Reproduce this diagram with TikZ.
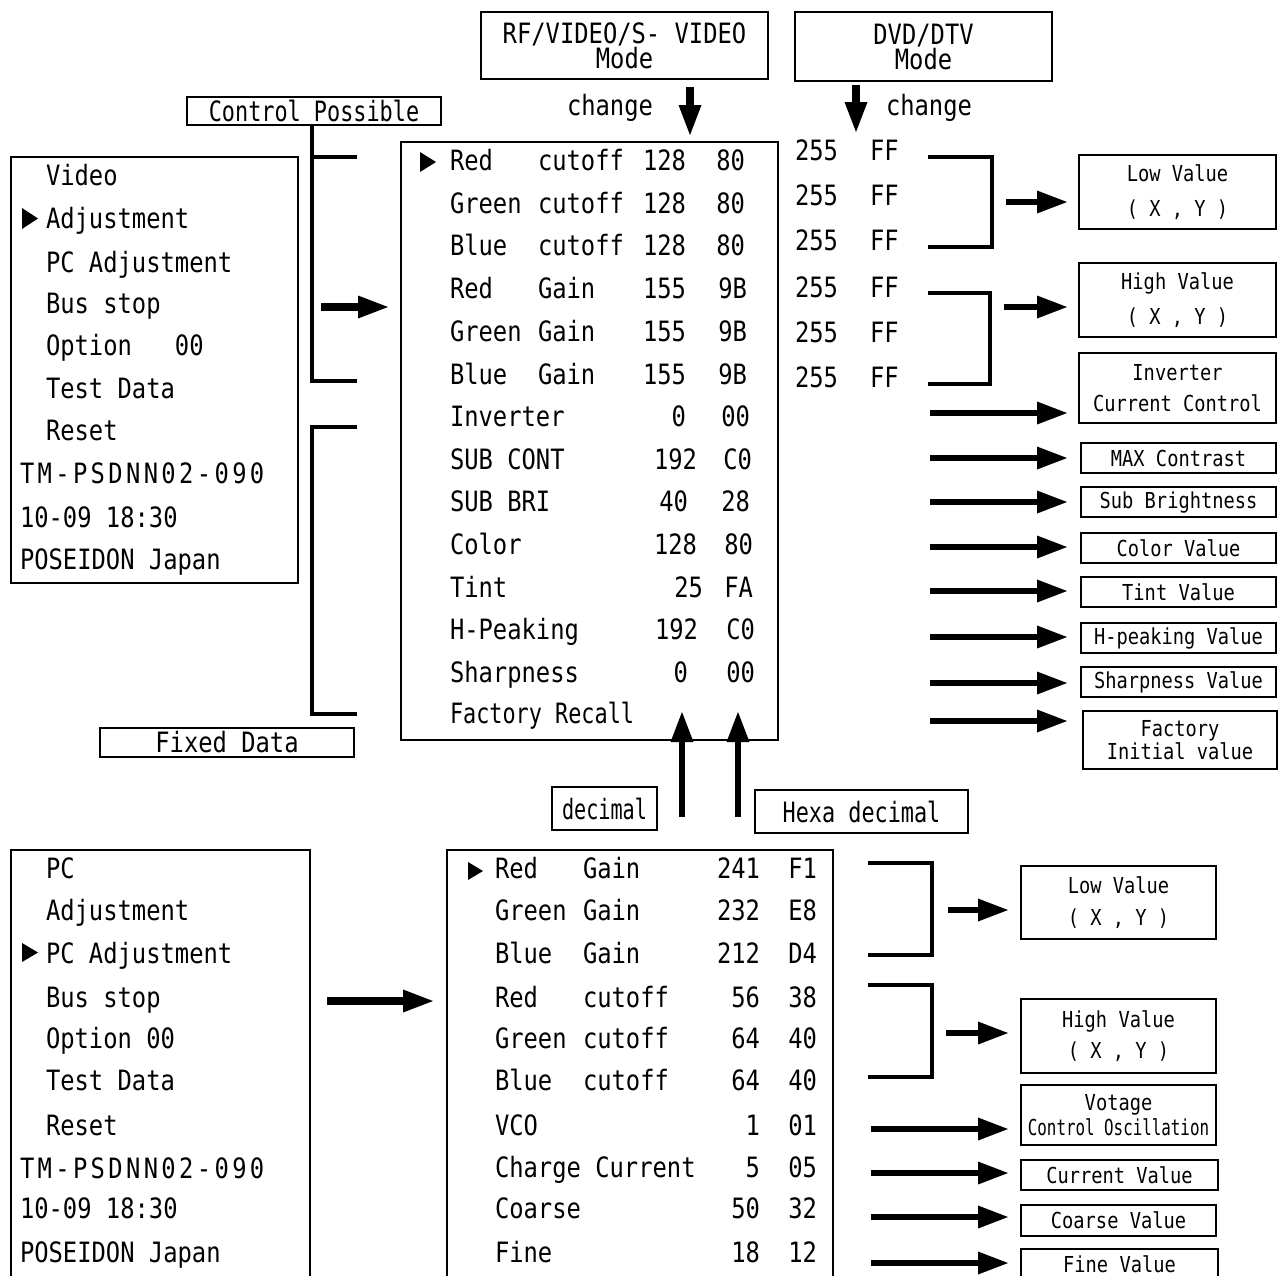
\documentclass[tikz,border=0pt]{standalone}
\usepackage{fontspec}
\newfontfamily\gfont[FakeStretch=0.85]{DejaVu Sans Mono}
\newfontfamily\gwide[FakeStretch=0.85,LetterSpace=12]{DejaVu Sans Mono}
\newfontfamily\gmid[FakeStretch=0.78]{DejaVu Sans Mono}
\newfontfamily\gnarrow[FakeStretch=0.72]{DejaVu Sans Mono}
\usetikzlibrary{arrows.meta}
\begin{document}
\begin{tikzpicture}[x=0.5pt,y=-0.5pt,
  mf/.style={font=\gfont\fontsize{14pt}{12.5pt}\selectfont},
  mfm/.style={font=\gmid\fontsize{14pt}{12.5pt}\selectfont},
  mfn/.style={font=\gnarrow\fontsize{14pt}{12.5pt}\selectfont},
  sfl/.style={font=\gfont\fontsize{11pt}{#1}\selectfont},
  txt/.style={inner sep=0pt, outer sep=0pt},
  box/.style={draw, line width=1pt, inner sep=0pt, outer sep=0pt, align=center},
  bx/.style 2 args={minimum width=#1*0.5pt, minimum height=#2*0.5pt},
  brk/.style={line width=2.2pt, line join=miter},
  arr/.style={line width=3pt, -{Triangle[length=15pt,width=11.5pt,line width=0pt]}},
  bigarr/.style={line width=4pt, -{Triangle[length=15pt,width=11.5pt,line width=0pt]}}
]
\useasboundingbox (0,0) rectangle (1278,1275);
\clip (0,0) rectangle (1278,1275);

% ---------- top mode boxes ----------
\node[box,mf,bx={287}{67}] (rfbox) at (624.5,45.5) {RF/VIDEO/S- VIDEO\\Mode};
\node[box,mf,bx={257}{69}] (dvdbox) at (923.5,46.5) {DVD/DTV\\Mode};
\coordinate (d1s) at (690,87); \coordinate (d1e) at (690,135);
\coordinate (d2s) at (856,85); \coordinate (d2e) at (856,132);
\draw[bigarr] (d1s) -- (d1e);
\draw[bigarr] (d2s) -- (d2e);
\node[txt,mf,anchor=base west] (ch1) at (567,115) {change};
\node[txt,mf,anchor=base west] (ch2) at (886,115) {change};

% ---------- control possible / fixed data ----------
\node[box,mfm,bx={254}{28}] (cpbox) at (314,111) {Control Possible};
\node[box,mf,bx={254}{29}] (fdbox) at (227,742.5) {Fixed Data};
\draw[brk] (312,125) -- (312,381) -- (357,381);
\draw[brk] (312,157) -- (357,157);
\draw[brk] (357,427) -- (312,427) -- (312,714) -- (357,714);

% ---------- top-left menu ----------
\node[box,bx={287}{426}] (menuA) at (154.5,370) {};
\foreach \x/\y/\t [count=\i] in {46/185/Video, 46/228/Adjustment, 46/272/PC Adjustment,
  46/313/Bus stop, 46/355/Option~~~00, 46/398/Test Data, 46/440/Reset,
  20/483/{\gwide TM-PSDNN02-090}, 20/527/10-09 18:30, 20/569/POSEIDON Japan}
  \node[txt,mf,anchor=base west] (ma\i) at (\x,\y) {\t};
\fill (22,208) -- (22,229) -- (38,218.5) -- cycle;
\coordinate (la1) at (321,307); \coordinate (la2) at (388,307);
\draw[bigarr] (la1) -- (la2);

% ---------- top panel ----------
\node[box,bx={377}{598}] (panelA) at (589.5,441) {};
\fill (420,152) -- (420,172) -- (436,162) -- cycle;
\foreach \y/\a/\b/\d/\dx/\h/\hx [count=\i] in {
  170/Red/cutoff/128/686/80/745, 213/Green/cutoff/128/686/80/745,
  255/Blue/cutoff/128/686/80/745, 298/Red/Gain/155/686/9B/747,
  341/Green/Gain/155/686/9B/747, 384/Blue/Gain/155/686/9B/747,
  426/Inverter//0/686/00/750, 469/SUB CONT//192/697/C0/752,
  511/SUB BRI//40/688/28/750, 554/Color//128/697/80/753,
  597/Tint//25/703/FA/753, 639/H-Peaking//192/698/C0/755,
  682/Sharpness//0/688/00/755} {
  \node[txt,mf,anchor=base west] (pa\i) at (450,\y) {\a};
  \node[txt,mf,anchor=base west] (pb\i) at (538,\y) {\b};
  \node[txt,mf,anchor=base east] (pd\i) at (\dx,\y) {\d};
  \node[txt,mf,anchor=base east] (ph\i) at (\hx,\y) {\h};
}
\node[txt,mfm,anchor=base west] (pa14) at (450,723) {Factory Recall};

% ---------- 255 FF column ----------
\foreach \y [count=\i] in {160,205,250,297,342,387} {
  \node[txt,mf,anchor=base west] (v\i) at (795,\y) {255};
  \node[txt,mf,anchor=base west] (f\i) at (870,\y) {FF};
}
\draw[brk] (928,157) -- (992,157) -- (992,247) -- (928,247);
\draw[brk] (928,293) -- (990,293) -- (990,384) -- (928,384);

% ---------- right boxes (top) ----------
\node[box,sfl=17.5pt,bx={197}{74}] (lowA) at (1177.5,192) {Low Value\\( X , Y )};
\node[box,sfl=17.5pt,bx={197}{74}] (highA) at (1177.5,300) {High Value\\( X , Y )};
\node[box,sfl=15.5pt,bx={197}{70}] (invA) at (1177.5,388) {Inverter\\Current Control};
\node[box,sfl=14pt,bx={195}{30}] (maxA) at (1178.5,458) {MAX Contrast};
\node[box,sfl=14pt,bx={195}{30}] (subA) at (1178.5,502) {Sub Brightness};
\node[box,sfl=14pt,bx={195}{30}] (colA) at (1178.5,548) {Color Value};
\node[box,sfl=14pt,bx={195}{30}] (tintA) at (1178.5,592) {Tint Value};
\node[box,sfl=14pt,bx={195}{30}] (hpA) at (1178.5,638) {H-peaking Value};
\node[box,sfl=14pt,bx={195}{30}] (shA) at (1178.5,682) {Sharpness Value};
\node[box,sfl=11.5pt,bx={194}{58}] (facA) at (1180,740) {Factory\\Initial value};

\coordinate (tipA) at (1067,0);
\coordinate (ba1) at (1006,202); \draw[arr] (ba1) -- (ba1 -| tipA);
\coordinate (ba2) at (1004,307); \draw[arr] (ba2) -- (ba2 -| tipA);
\foreach \y/\n in {413/invA, 458/maxA, 502/subA, 547/colA, 591/tintA, 637/hpA, 683/shA, 721/facA} {
  \coordinate (ra\n) at (930,\y);
  \draw[arr] (ra\n) -- (ra\n -| tipA);
}

% ---------- decimal / hexadecimal ----------
\coordinate (u1s) at (682,817); \coordinate (u1e) at (682,712);
\coordinate (u2s) at (738,817); \coordinate (u2e) at (738,712);
\draw[arr] (u1s) -- (u1e);
\draw[arr] (u2s) -- (u2e);
\node[box,mfn,bx={105}{43}] (decbox) at (604.5,808.5) {decimal};
\node[box,mfm,bx={213}{43}] (hexbox) at (861.5,811.5) {Hexa decimal};

% ---------- bottom-left menu ----------
\node[box,bx={299}{450}] (menuB) at (160.5,1075) {};
\foreach \x/\y/\t [count=\i] in {46/878/PC, 46/920/Adjustment, 46/963/PC Adjustment,
  46/1007/Bus stop, 46/1048/Option 00, 46/1090/Test Data, 46/1135/Reset,
  20/1178/{\gwide TM-PSDNN02-090}, 20/1218/10-09 18:30, 20/1262/POSEIDON Japan}
  \node[txt,mf,anchor=base west] (mb\i) at (\x,\y) {\t};
\fill (22,943) -- (22,962) -- (38,952.5) -- cycle;
\coordinate (lb1) at (327,1001); \coordinate (lb2) at (433,1001);
\draw[bigarr] (lb1) -- (lb2);

% ---------- bottom panel ----------
\node[box,bx={386}{450}] (panelB) at (640,1075) {};
\fill (468,862) -- (468,880) -- (483,871) -- cycle;
\foreach \y/\a/\b/\d/\h [count=\i] in {
  878/Red/Gain/241/F1, 920/Green/Gain/232/E8, 963/Blue/Gain/212/D4,
  1007/Red/cutoff/56/38, 1048/Green/cutoff/64/40, 1090/Blue/cutoff/64/40,
  1135/VCO//1/01, 1177/Charge Current//5/05, 1218/Coarse//50/32, 1262/Fine//18/12} {
  \node[txt,mf,anchor=base west] (qa\i) at (495,\y) {\a};
  \node[txt,mf,anchor=base west] (qb\i) at (583,\y) {\b};
  \node[txt,mf,anchor=base east] (qd\i) at (760,\y) {\d};
  \node[txt,mf,anchor=base east] (qh\i) at (817,\y) {\h};
}
\draw[brk] (868,863) -- (932,863) -- (932,955) -- (868,955);
\draw[brk] (868,985) -- (932,985) -- (932,1077) -- (868,1077);

% ---------- right boxes (bottom) ----------
\node[box,sfl=16pt,bx={195}{73}] (lowB) at (1118.5,902.5) {Low Value\\( X , Y )};
\node[box,sfl=15.5pt,bx={195}{74}] (highB) at (1118.5,1036) {High Value\\( X , Y )};
\node[box,sfl=12.5pt,bx={195}{60}] (vcoB) at (1118.5,1115) {Votage\\{\gnarrow Control Oscillation}};
\node[box,sfl=14pt,bx={197}{30}] (curB) at (1119.5,1175) {Current Value};
\node[box,sfl=14pt,bx={195}{31}] (coaB) at (1118.5,1220.5) {Coarse Value};
\node[box,bx={197}{60}] (fineB) at (1119.5,1279) {};
\node[txt,sfl=14pt,anchor=base] (fineT) at (1119.5,1272) {Fine Value};

\coordinate (tipB) at (1008,0);
\coordinate (bb1) at (948,910); \draw[arr] (bb1) -- (bb1 -| tipB);
\coordinate (bb2) at (946,1033); \draw[arr] (bb2) -- (bb2 -| tipB);
\foreach \y/\n in {1129/vcoB, 1173/curB, 1217/coaB, 1263/fineB} {
  \coordinate (rb\n) at (871,\y);
  \draw[arr] (rb\n) -- (rb\n -| tipB);
}
\end{tikzpicture}
\end{document}
